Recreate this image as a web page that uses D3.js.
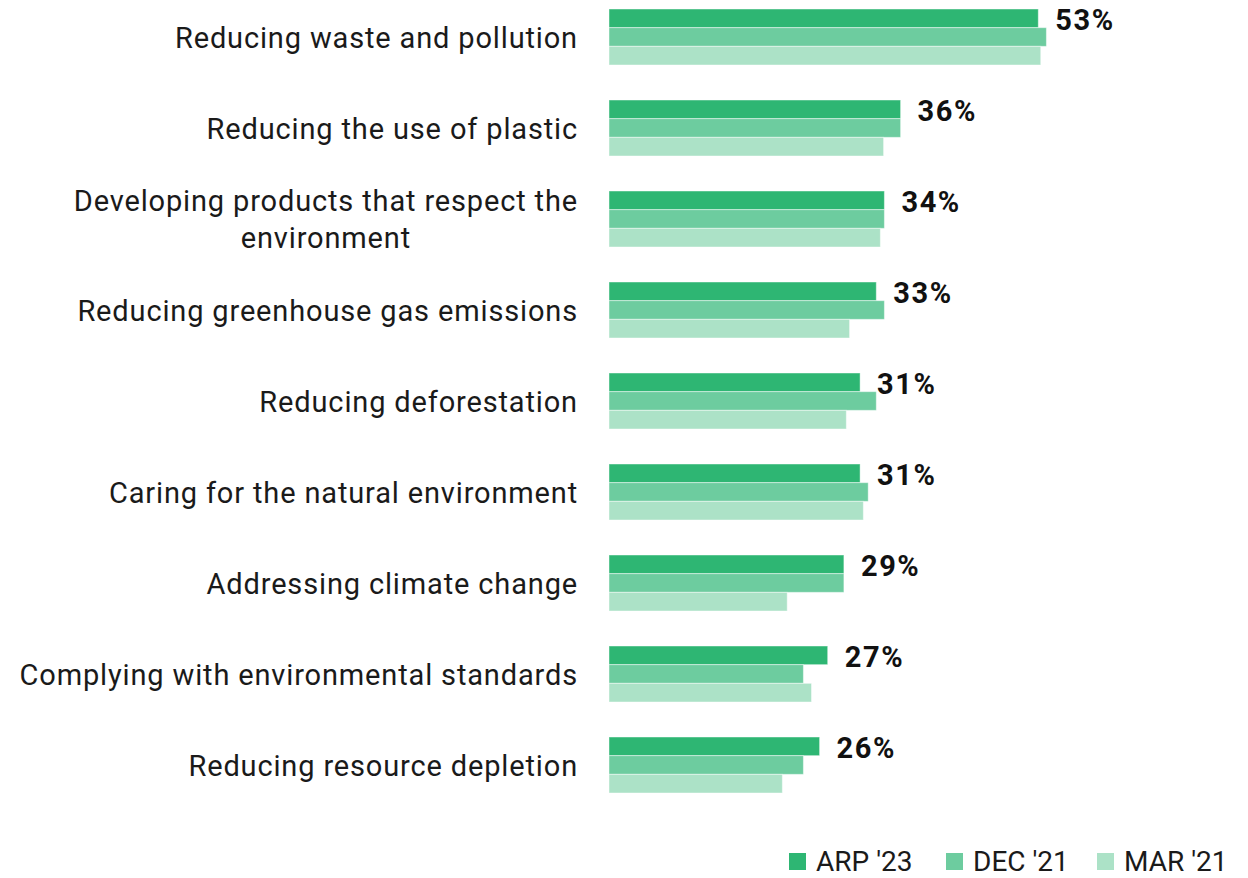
<!DOCTYPE html>
<html>
<head>
<meta charset="utf-8">
<script src="https://cdn.jsdelivr.net/npm/d3@7"></script>
<style>
  html, body { margin: 0; padding: 0; background: #fff; }
  svg { display: block; }
  text { font-family: Roboto, "Noto Sans", sans-serif; }
</style>
</head>
<body>
<svg id="chart" width="1248" height="878"></svg>
<script>
// Priorities for environmental action, by survey wave
const categories = [
  ["Reducing waste and pollution"],
  ["Reducing the use of plastic"],
  ["Developing products that respect the", "environment"],
  ["Reducing greenhouse gas emissions"],
  ["Reducing deforestation"],
  ["Caring for the natural environment"],
  ["Addressing climate change"],
  ["Complying with environmental standards"],
  ["Reducing resource depletion"]
];
const seriesNames = ["ARP '23", "DEC '21", "MAR '21"];
const arp23 = [53, 36, 34, 33, 31, 31, 29, 27, 26];
const dec21 = [54, 36, 34, 34, 33, 32, 29, 24, 24];
const mar21 = [53.3, 33.9, 33.5, 29.7, 29.3, 31.4, 22, 25, 21.4];
const seriesColors = ["#2eb673", "#6dcc9f", "#ace2c7"];

const series = [arp23, dec21, mar21];
const svg = d3.select("#chart");

const keys = categories.map((c, i) => i);
const x = d3.scaleLinear().domain([0, 60]).range([609, 609 + 60 * 8.1]);
const y = d3.scaleBand().domain(keys).range([9, 793]).paddingInner(35 / 91).paddingOuter(0);
const yInner = d3.scaleBand().domain(seriesNames).range([0, y.bandwidth()]);

// grouped bars
const groups = svg.append("g").selectAll("g")
  .data(keys)
  .join("g")
  .attr("transform", d => `translate(0,${y(d)})`);

groups.selectAll("rect")
  .data(i => series.map((s, k) => ({ name: seriesNames[k], value: s[i], color: seriesColors[k] })))
  .join("rect")
  .attr("x", x(0))
  .attr("y", d => yInner(d.name))
  .attr("width", d => x(d.value) - x(0))
  .attr("height", yInner.bandwidth())
  .attr("fill", d => d.color)
  .attr("stroke", "rgba(255,255,255,0.45)")
  .attr("stroke-width", 1);

// value labels for the latest wave
groups.append("text")
  .attr("x", i => x(arp23[i]) + 17)
  .attr("y", yInner(seriesNames[0]) + 21)
  .attr("font-size", 29)
  .attr("font-weight", 700)
  .attr("letter-spacing", 1.6)
  .attr("fill", "#111")
  .text(i => arp23[i] + "%");

// category labels: right-aligned block, wrapped lines centred within it
const yAxis = d3.axisLeft(y).tickSize(0).tickFormat("");
const axisG = svg.append("g").attr("transform", `translate(578,0)`).call(yAxis);
axisG.select(".domain").remove();
axisG.selectAll(".tick").each(function(i) {
  const lines = categories[i];
  const t = d3.select(this).append("text")
    .attr("font-size", 29)
    .attr("letter-spacing", 0.85)
    .attr("fill", "#1a1a1a");
  const offset0 = -(lines.length - 1) * 37 / 2;
  const spans = lines.map((ln, j) => t.append("tspan")
      .attr("y", offset0 + j * 37 + 10.5)
      .text(ln));
  if (lines.length === 1) {
    t.attr("text-anchor", "end");
    spans[0].attr("x", 0);
  } else {
    const maxW = d3.max(spans, s => s.node().getComputedTextLength());
    t.attr("text-anchor", "middle");
    spans.forEach(s => s.attr("x", -maxW / 2));
  }
});

// legend
const legendX = [789, 946, 1097];
const legend = svg.append("g").selectAll("g")
  .data(seriesNames)
  .join("g")
  .attr("transform", (d, i) => `translate(${legendX[i]},853)`);
legend.append("rect")
  .attr("width", 17).attr("height", 17)
  .attr("fill", (d, i) => seriesColors[i]);
legend.append("text")
  .attr("x", 27).attr("y", 18)
  .attr("font-size", 28)
  .attr("fill", "#1a1a1a")
  .text(d => d);
</script>
</body>
</html>
